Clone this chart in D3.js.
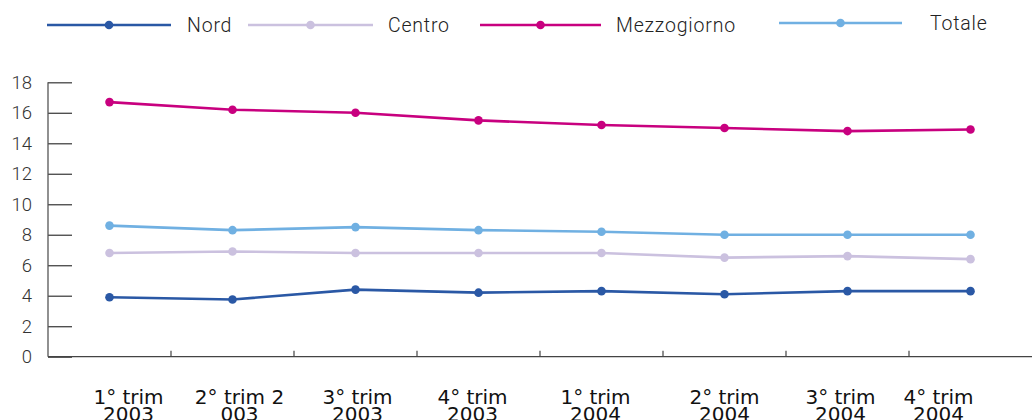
<!DOCTYPE html>
<html><head><meta charset="utf-8">
<script src="https://cdn.jsdelivr.net/npm/d3@7"></script>
<style>html,body{margin:0;padding:0;background:#fff;}svg{display:block;}</style>
</head><body><svg id="c" width="1032" height="420"></svg>
<script>
const categories = ["1° trim 2003","2° trim 2003","3° trim 2003","4° trim 2003","1° trim 2004","2° trim 2004","3° trim 2004","4° trim 2004"];
const tickLines = [["1° trim","2003"],["2° trim 2","003"],["3° trim","2003"],["4° trim","2003"],["1° trim","2004"],["2° trim","2004"],["3° trim","2004"],["4° trim","2004"]];
const seriesNames = ["Nord","Centro","Mezzogiorno","Totale"];
const nord = [3.9,3.75,4.4,4.2,4.3,4.1,4.3,4.3];
const centro = [6.8,6.9,6.8,6.8,6.8,6.5,6.6,6.4];
const mezzogiorno = [16.7,16.2,16.0,15.5,15.2,15.0,14.8,14.9];
const totale = [8.6,8.3,8.5,8.3,8.2,8.0,8.0,8.0];
const yTicks = [0,2,4,6,8,10,12,14,16,18];

(function(){
const colors = ["#2a58a5","#cbc1df","#c8007f","#70b0e2"];
const labelNudge = [19,7,2,-6,-6,0,-7,-32];
const series = [nord,centro,mezzogiorno,totale];

const svg = d3.select("#c");
const mLeft = 48, mRight = 1032, mTop = 82.3, mBottom = 356.7;
const x = d3.scaleBand().domain(categories).range([mLeft,mRight]);
const y = d3.scaleLinear().domain([0,18]).range([mBottom,mTop]);

// Y axis
const yAxis = svg.append("g").attr("transform",`translate(${mLeft},0)`)
  .call(d3.axisRight(y).tickValues(yTicks).tickSize(24).tickFormat(""));
yAxis.select(".domain").remove();
yAxis.selectAll(".tick line").attr("stroke","#444").attr("stroke-width",1.3);
svg.append("line").attr("x1",mLeft).attr("x2",mLeft).attr("y1",y(18)).attr("y2",mBottom)
  .attr("stroke","#555").attr("stroke-width",1.3);
svg.append("g").selectAll("text").data(yTicks).join("text")
  .attr("x",32).attr("y",d=>y(d)).attr("dy","0.35em").attr("text-anchor","end")
  .attr("font-family","Roboto, 'Open Sans', sans-serif").attr("font-weight",300)
  .attr("font-size",18.5).attr("fill","#333")
  .text(d=>d);

// X axis
svg.append("line").attr("x1",mLeft).attr("x2",mRight).attr("y1",mBottom).attr("y2",mBottom)
  .attr("stroke","#444").attr("stroke-width",1.3);
svg.append("g").selectAll("line").data(categories.slice(1)).join("line")
  .attr("x1",d=>x(d)).attr("x2",d=>x(d)).attr("y1",mBottom).attr("y2",mBottom-6)
  .attr("stroke","#444").attr("stroke-width",1.2);
const lab = svg.append("g").selectAll("text").data(categories).join("text")
  .attr("x",(d,i)=>x(d)+x.bandwidth()/2+labelNudge[i]).attr("y",404)
  .attr("text-anchor","middle").attr("font-family","'DejaVu Sans', sans-serif")
  .attr("font-size",20).attr("fill","#111");
lab.each(function(d,i){
  const t=d3.select(this);
  tickLines[i].forEach((s,j)=>t.append("tspan").attr("x",x(d)+x.bandwidth()/2+labelNudge[i]).attr("dy",j?17:0).text(s));
});

// Lines
const line = d3.line().x((d,i)=>x(categories[i])+x.bandwidth()/2).y(d=>y(d));
series.forEach((s,k)=>{
  const g = svg.append("g");
  g.append("path").datum(s).attr("d",line).attr("fill","none")
    .attr("stroke",colors[k]).attr("stroke-width",2.6);
  g.selectAll("circle").data(s).join("circle")
    .attr("cx",(d,i)=>x(categories[i])+x.bandwidth()/2).attr("cy",d=>y(d)).attr("r",4.3)
    .attr("fill",colors[k]);
});

// Legend
const legendItems = [
  {x1:47,x2:171,tx:187,y:25},
  {x1:248,x2:373,tx:388,y:25},
  {x1:480,x2:601,tx:616,y:25},
  {x1:779,x2:902,tx:930,y:23}
];
const lg = svg.append("g");
seriesNames.forEach((n,k)=>{
  const L = legendItems[k];
  lg.append("line").attr("x1",L.x1).attr("x2",L.x2).attr("y1",L.y).attr("y2",L.y)
    .attr("stroke",colors[k]).attr("stroke-width",2.6);
  lg.append("circle").attr("cx",(L.x1+L.x2)/2).attr("cy",L.y).attr("r",4.3).attr("fill",colors[k]);
  lg.append("text").attr("x",L.tx).attr("y",L.y).attr("dy","0.35em")
    .attr("font-family","Roboto, 'Open Sans', sans-serif").attr("font-weight",300)
    .attr("font-size",19.5).attr("fill","#222")
    .attr("letter-spacing",0.8).text(n);
});
})();
</script></body></html>
